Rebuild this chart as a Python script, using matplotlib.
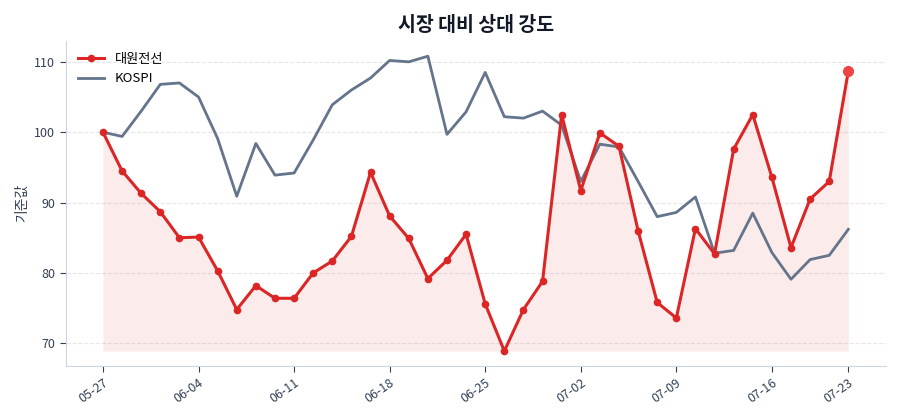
import matplotlib
matplotlib.use("Agg")
import matplotlib.pyplot as plt
import numpy as np

plt.rcParams['font.family'] = ['Noto Sans CJK KR', 'DejaVu Sans']

#-- data (business days, index-based x axis)
dates = ['05-27', '05-28', '05-29', '05-30', '06-02', '06-04', '06-05', '06-06', '06-09', '06-10',
         '06-11', '06-12', '06-13', '06-16', '06-17', '06-18', '06-19', '06-20', '06-23', '06-24',
         '06-25', '06-26', '06-27', '06-30', '07-01', '07-02', '07-03', '07-04', '07-07', '07-08',
         '07-09', '07-10', '07-11', '07-14', '07-15', '07-16', '07-17', '07-18', '07-21', '07-23']

stock = [100.0, 94.5, 91.3, 88.7, 85.0, 85.1, 80.3, 74.8, 78.2, 76.4,
         76.4, 80.0, 81.7, 85.2, 94.3, 88.1, 84.9, 79.2, 81.8, 85.5,
         75.6, 68.9, 74.8, 78.8, 102.5, 91.7, 99.9, 98.0, 86.0, 75.8,
         73.6, 86.3, 82.7, 97.6, 102.5, 93.6, 83.6, 90.5, 93.0, 108.7]

kospi = [100.0, 99.4, 103.0, 106.8, 107.0, 105.0, 99.1, 90.9, 98.4, 93.9,
         94.2, 98.9, 103.9, 106.0, 107.7, 110.2, 110.0, 110.8, 99.7, 102.9,
         108.5, 102.2, 102.0, 103.0, 101.0, 93.0, 98.3, 97.9, 93.0, 88.0,
         88.6, 90.8, 82.8, 83.2, 88.5, 82.9, 79.1, 81.9, 82.5, 86.2]

stock_name = '대원전선'
bench_name = 'KOSPI'
title = '시장 대비 상대 강도'
ylabel = '기준값'

x = np.arange(len(dates))

#-- figure
fig = plt.figure(figsize=(9, 4.2), dpi=100)
ax = fig.add_axes([0.073, 0.129, 0.911, 0.774])

ax.fill_between(x, stock, min(stock), color='#dc2626', alpha=0.09, linewidth=0)
ax.plot(x, stock, color='#dc2626', lw=2.2, marker='o', ms=4.5, label=stock_name, zorder=3)
ax.plot(x, kospi, color='#64748b', lw=2.0, label=bench_name, zorder=2)
ax.plot(x[-1], stock[-1], 'o', color='#ef4444', ms=7, zorder=4)

#-- axes styling
ax.set_xlim(-1.95, len(dates) - 1 + 1.95)
ax.set_ylim(66.8, 113.0)
ax.set_yticks([70, 80, 90, 100, 110])
ticks = list(range(0, len(dates), 5)) + [len(dates) - 1]
ax.set_xticks(ticks)
ax.set_xticklabels([dates[i] for i in ticks], rotation=35, ha='right', rotation_mode='anchor')
ax.tick_params(axis='both', labelsize=9, colors='#334155', length=4)
ax.grid(axis='y', linestyle='--', color='#e5e7eb', lw=0.8)
ax.set_axisbelow(True)
for s in ['top', 'right']:
    ax.spines[s].set_visible(False)
for s in ['left', 'bottom']:
    ax.spines[s].set_color('#cbd5e1')

ax.set_ylabel(ylabel, fontsize=10, color='#334155')
ax.set_title(title, fontsize=14, fontweight='bold', color='#111827', pad=7)
ax.legend(loc='upper left', frameon=False, fontsize=9.5)

fig.savefig('out.png', dpi=100)
